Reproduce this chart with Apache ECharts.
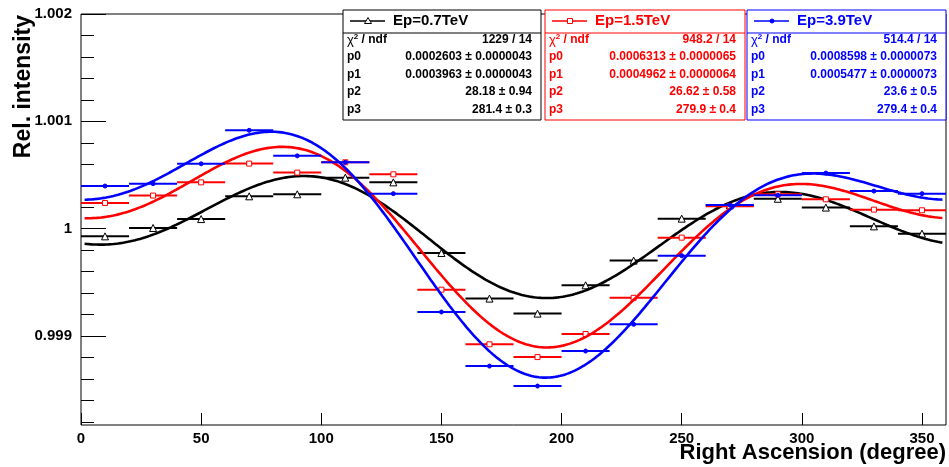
<!DOCTYPE html>
<html>
<head>
<meta charset="utf-8">
<script src="https://cdn.jsdelivr.net/npm/echarts@6/dist/echarts.min.js"></script>
<style>
  html, body { margin: 0; padding: 0; background: #fff; }
  #chart { width: 949px; height: 467px; }
</style>
</head>
<body>
<div id="chart"></div>
<script>
// Right-ascension bins (centres, degrees) and their half width
const raCenters = [10, 30, 50, 70, 90, 110, 130, 150, 170, 190, 210, 230, 250, 270, 290, 310, 330, 350];
const binHalfWidth = 10;

// Relative intensity per bin for each primary energy
const rel07 = [0.999928, 1.000006, 1.000089, 1.000301, 1.000320, 1.000475, 1.000431, 0.999773, 0.999348,
               0.999208, 0.999472, 0.999702, 1.000093, 1.000217, 1.000278, 1.000196, 1.000021, 0.999953];
const rel15 = [1.000239, 1.000308, 1.000431, 1.000606, 1.000522, 1.000618, 1.000506, 0.999431, 0.998922,
               0.998803, 0.999018, 0.999355, 0.999916, 1.000208, 1.000320, 1.000273, 1.000177, 1.000171];
const rel39 = [1.000397, 1.000419, 1.000604, 1.000916, 1.000678, 1.000618, 1.000326, 0.999223, 0.998719,
               0.998533, 0.998859, 0.999108, 0.999748, 1.000220, 1.000310, 1.000518, 1.000350, 1.000326];

// Fit results: 1 + p0*cos(RA - p2) + p1*cos(2*(RA - p3))
const seriesNames = ['Ep=0.7TeV', 'Ep=1.5TeV', 'Ep=3.9TeV'];
const chi2ndf = ['1229 / 14', '948.2 / 14', '514.4 / 14'];
const fitP0 = ['0.0002603', '0.0006313', '0.0008598'];
const fitP0Err = ['0.0000043', '0.0000065', '0.0000073'];
const fitP1 = ['0.0003963', '0.0004962', '0.0005477'];
const fitP1Err = ['0.0000043', '0.0000064', '0.0000073'];
const fitP2 = ['28.18', '26.62', '23.6'];
const fitP2Err = ['0.94', '0.58', '0.5'];
const fitP3 = ['281.4', '279.9', '279.4'];
const fitP3Err = ['0.3', '0.4', '0.4'];
const fitRange = [1.5, 358.5];

// Axis ticks
const xTickValues = [0, 50, 100, 150, 200, 250, 300, 350];
const yTickValues = [0.999, 1, 1.001, 1.002];
const yMinorTicks = [0.9982, 0.9984, 0.9986, 0.9988, 0.9992, 0.9994, 0.9996, 0.9998,
                     1.0002, 1.0004, 1.0006, 1.0008, 1.0012, 1.0014, 1.0016, 1.0018];
const yRange = [0.99817, 1.002];

const colors = ['#000000', '#ff0000', '#0000ff'];
const markerSymbols = ['triangle', 'rect', 'circle'];
const markerSizes = [7, 5, 4];
const markerFills = ['#ffffff', '#ffffff', '#0000ff'];
const allValues = [rel07, rel15, rel39];

const FONT = '"Liberation Sans", Arial, Helvetica, sans-serif';
const deg = Math.PI / 180;

function fitCurve(k) {
  const p0 = Number(fitP0[k]), p1 = Number(fitP1[k]), p2 = Number(fitP2[k]), p3 = Number(fitP3[k]);
  const pts = [];
  for (let x = fitRange[0]; x <= fitRange[1] + 1e-9; x += 1) {
    pts.push([x, 1 + p0 * Math.cos((x - p2) * deg) + p1 * Math.cos(2 * (x - p3) * deg)]);
  }
  return pts;
}

const series = [];
allValues.forEach(function (vals, k) {
  const pts = raCenters.map(function (x, i) { return [x, vals[i]]; });
  series.push({
    type: 'custom',
    name: seriesNames[k] + ' bins',
    data: pts,
    z: 2 + k * 3,
    renderItem: function (params, api) {
      const x = api.value(0), y = api.value(1);
      const a = api.coord([x - binHalfWidth, y]);
      const b = api.coord([x + binHalfWidth, y]);
      return {
        type: 'line',
        shape: { x1: a[0], y1: a[1], x2: b[0], y2: b[1] },
        style: { stroke: colors[k], lineWidth: 2 }
      };
    }
  });
  series.push({
    type: 'scatter',
    name: seriesNames[k],
    data: pts,
    z: 3 + k * 3,
    symbol: markerSymbols[k],
    symbolSize: markerSizes[k],
    itemStyle: { color: markerFills[k], borderColor: colors[k], borderWidth: 1, opacity: 1 },
    emphasis: { disabled: true }
  });
  series.push({
    type: 'line',
    name: seriesNames[k] + ' fit',
    data: fitCurve(k),
    z: 4 + k * 3,
    showSymbol: false,
    smooth: false,
    lineStyle: { color: colors[k], width: 2.6 },
    emphasis: { disabled: true }
  });
});

// Stat boxes above the plot
const boxes = [
  { left: 343, right: 541 },
  { left: 545, right: 745 },
  { left: 747, right: 946 }
];
const boxTop = 10, boxBottom = 120, headerLine = 33;
const rowOffsets = [30, 47, 64.5, 82, 100];

const graphics = [];
boxes.forEach(function (bx, k) {
  const c = colors[k];
  const w = bx.right - bx.left;
  graphics.push({ type: 'rect', shape: { x: bx.left, y: boxTop, width: w, height: boxBottom - boxTop },
    style: { fill: '#fff', stroke: c, lineWidth: 1 }, z: 100 });
  graphics.push({ type: 'line', shape: { x1: bx.left, y1: headerLine, x2: bx.right, y2: headerLine },
    style: { stroke: c, lineWidth: 1 }, z: 101 });
  // legend sample
  graphics.push({ type: 'line', shape: { x1: bx.left + 7, y1: 21, x2: bx.left + 42, y2: 21 },
    style: { stroke: c, lineWidth: 1.5 }, z: 101 });
  const sym = markerSymbols[k];
  if (sym === 'triangle') {
    graphics.push({ type: 'polygon', shape: { points: [[bx.left + 25, 17.5], [bx.left + 28.5, 23.5], [bx.left + 21.5, 23.5]] },
      style: { fill: '#fff', stroke: c, lineWidth: 1 }, z: 102 });
  } else if (sym === 'rect') {
    graphics.push({ type: 'rect', shape: { x: bx.left + 22.5, y: 18.5, width: 5, height: 5 },
      style: { fill: '#fff', stroke: c, lineWidth: 1 }, z: 102 });
  } else {
    graphics.push({ type: 'circle', shape: { cx: bx.left + 25, cy: 21, r: 2 },
      style: { fill: c, stroke: c, lineWidth: 1 }, z: 102 });
  }
  graphics.push({ type: 'text', x: bx.left + 50, y: 21, z: 102,
    style: { text: seriesNames[k], fill: c, font: 'bold 15px ' + FONT, verticalAlign: 'middle', align: 'left' } });

  const labels = ['chi', 'p0', 'p1', 'p2', 'p3'];
  const values = [
    chi2ndf[k],
    fitP0[k] + ' \u00b1 ' + fitP0Err[k],
    fitP1[k] + ' \u00b1 ' + fitP1Err[k],
    fitP2[k] + ' \u00b1 ' + fitP2Err[k],
    fitP3[k] + ' \u00b1 ' + fitP3Err[k]
  ];
  labels.forEach(function (lab, r) {
    const y = boxTop + rowOffsets[r];
    if (lab === 'chi') {
      graphics.push({ type: 'text', x: bx.left + 4, y: y, z: 102,
        style: {
          text: '{g|\u03c7}{s|2}{b| / ndf}',
          verticalAlign: 'middle', align: 'left',
          rich: {
            g: { fontFamily: FONT, fontSize: 13, fill: c, fontWeight: 'normal' },
            s: { fontFamily: FONT, fontSize: 8, fill: c, fontWeight: 'bold', padding: [0, 0, 7, 0] },
            b: { fontFamily: FONT, fontSize: 12, fill: c, fontWeight: 'bold' }
          }
        } });
    } else {
      graphics.push({ type: 'text', x: bx.left + 4, y: y, z: 102,
        style: { text: lab, fill: c, font: 'bold 12px ' + FONT, verticalAlign: 'middle', align: 'left' } });
    }
    graphics.push({ type: 'text', x: bx.right - 9, y: y, z: 102,
      style: { text: values[r], fill: c, font: 'bold 12px ' + FONT, verticalAlign: 'middle', align: 'right' } });
  });
});

// Axis titles
graphics.push({ type: 'text', x: 946, y: 453, z: 50,
  style: { text: 'Right Ascension (degree)', fill: '#000', font: 'bold 22px ' + FONT, align: 'right', verticalAlign: 'middle' } });
graphics.push({ type: 'text', x: 24, y: 15, rotation: Math.PI / 2, z: 50,
  style: { text: 'Rel. intensity', fill: '#000', font: 'bold 23px ' + FONT, align: 'right', verticalAlign: 'middle' } });

const chart = echarts.init(document.getElementById('chart'), null, { renderer: 'canvas' });
chart.setOption({
  animation: false,
  backgroundColor: '#ffffff',
  grid: { left: 81, right: 3, top: 14, bottom: 42, show: true, borderColor: '#000', borderWidth: 1, backgroundColor: 'transparent' },
  xAxis: {
    type: 'value', min: 0, max: 360,
    axisLine: { show: false },
    splitLine: { show: false },
    axisTick: { show: true, inside: true, length: 12, customValues: xTickValues, lineStyle: { color: '#000', width: 1 } },
    axisLabel: { show: true, customValues: xTickValues, margin: 6, color: '#000', fontFamily: FONT, fontWeight: 'bold', fontSize: 15 }
  },
  yAxis: [
    {
      type: 'value', min: yRange[0], max: yRange[1],
      axisLine: { show: false },
      splitLine: { show: false },
      axisTick: { show: true, inside: true, length: 25, customValues: yTickValues, lineStyle: { color: '#000', width: 1 } },
      axisLabel: { show: true, customValues: yTickValues, margin: 9, color: '#000', fontFamily: FONT, fontWeight: 'bold', fontSize: 15,
        formatter: function (v) { return String(+v.toFixed(3)); } }
    },
    {
      type: 'value', min: yRange[0], max: yRange[1], position: 'left', offset: 0,
      axisLine: { show: false },
      splitLine: { show: false },
      axisTick: { show: true, inside: true, length: 13, customValues: yMinorTicks, lineStyle: { color: '#000', width: 1 } },
      axisLabel: { show: false }
    }
  ],
  series: series,
  graphic: graphics
});
</script>
</body>
</html>
